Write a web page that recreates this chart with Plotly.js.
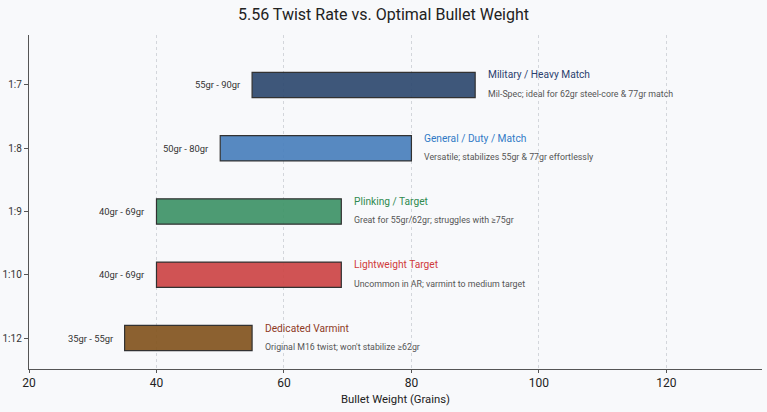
<!DOCTYPE html>
<html>
<head>
<meta charset="utf-8">
<script src="https://cdn.plot.ly/plotly-3.0.1.min.js"></script>
<style>
  html, body { margin: 0; padding: 0; background: #f8f9fb; }
  #chart { width: 767px; height: 412px; }
</style>
</head>
<body>
<div id="chart"></div>
<script>
// twist rates and their bullet weight windows (grains)
const twistRates = ["1:7", "1:8", "1:9", "1:10", "1:12"];
const minWeight = [55, 50, 40, 40, 35];
const maxWeight = [90, 80, 69, 69, 55];
const useNames = ["Military / Heavy Match", "General / Duty / Match", "Plinking / Target", "Lightweight Target", "Dedicated Varmint"];
const useNotes = [
    "Mil-Spec; ideal for 62gr steel-core & 77gr match",
    "Versatile; stabilizes 55gr & 77gr effortlessly",
    "Great for 55gr/62gr; struggles with ≥75gr",
    "Uncommon in AR; varmint to medium target",
    "Original M16 twist; won't stabilize ≥62gr"
];
const barColors = ["#2f4a70", "#4a80bd", "#3f9468", "#cd4646", "#83551f"];
const nameColors = ["#2b3f6e", "#3179c6", "#2f8a4f", "#d03b3b", "#8e3a1f"];

let fontFam = "Roboto, 'Open Sans', sans-serif";

// floating bars: base = min, length = max - min
let trace = {
    type: "bar",
    orientation: "h",
    y: twistRates,
    x: maxWeight.map((m, i) => m - minWeight[i]),
    base: minWeight,
    width: 0.4,
    marker: {
        color: barColors,
        opacity: 0.92,
        line: { color: "#222222", width: 1.2 }
    },
    hoverinfo: "skip",
    showlegend: false
};

let notes = [];
twistRates.forEach((t, i) => {
    // range label left of the bar
    notes.push({
        x: minWeight[i], y: t, xref: "x", yref: "y",
        text: minWeight[i] + "gr - " + maxWeight[i] + "gr",
        showarrow: false, xanchor: "right", xshift: -9,
        font: { family: fontFam, size: 9.4, color: "#333333" }
    });
    // use-case name
    notes.push({
        x: maxWeight[i], y: t, xref: "x", yref: "y",
        text: useNames[i],
        showarrow: false, xanchor: "left", xshift: 11, yshift: 10,
        font: { family: fontFam, size: 10.2, color: nameColors[i] }
    });
    // description
    notes.push({
        x: maxWeight[i], y: t, xref: "x", yref: "y",
        text: useNotes[i],
        showarrow: false, xanchor: "left", xshift: 11, yshift: -9,
        font: { family: fontFam, size: 8.8, color: "#555555" }
    });
});

let layout = {
    width: 767,
    height: 412,
    paper_bgcolor: "#f8f9fb",
    plot_bgcolor: "#f8f9fb",
    margin: { l: 29, r: 5, t: 35, b: 43 },
    font: { family: fontFam, color: "#222222" },
    title: {
        text: "5.56 Twist Rate vs. Optimal Bullet Weight",
        font: { family: fontFam, size: 16, color: "#222222" },
        x: 0.5, xanchor: "center", y: 0.965, yanchor: "middle"
    },
    xaxis: {
        range: [20, 135],
        tickvals: [20, 40, 60, 80, 100, 120],
        showgrid: true,
        gridcolor: "#d3d6db",
        griddash: "3px,3px",
        gridwidth: 1,
        zeroline: false,
        showline: true,
        linecolor: "#555555",
        linewidth: 1.2,
        ticks: "outside",
        ticklen: 3,
        tickcolor: "#555555",
        ticklabelstandoff: -1,
        tickfont: { size: 12, color: "#222222" },
        title: { text: "Bullet Weight (Grains)", font: { size: 11.3, color: "#222222" }, standoff: 6 }
    },
    yaxis: {
        type: "category",
        range: [4.49, -0.79],
        showgrid: false,
        zeroline: false,
        showline: true,
        linecolor: "#555555",
        linewidth: 1.2,
        ticks: "outside",
        ticklen: 4,
        tickcolor: "#555555",
        tickfont: { size: 10, color: "#333333" }
    },
    annotations: notes
};

Plotly.newPlot("chart", [trace], layout, { displayModeBar: false, staticPlot: true });
</script>
</body>
</html>
